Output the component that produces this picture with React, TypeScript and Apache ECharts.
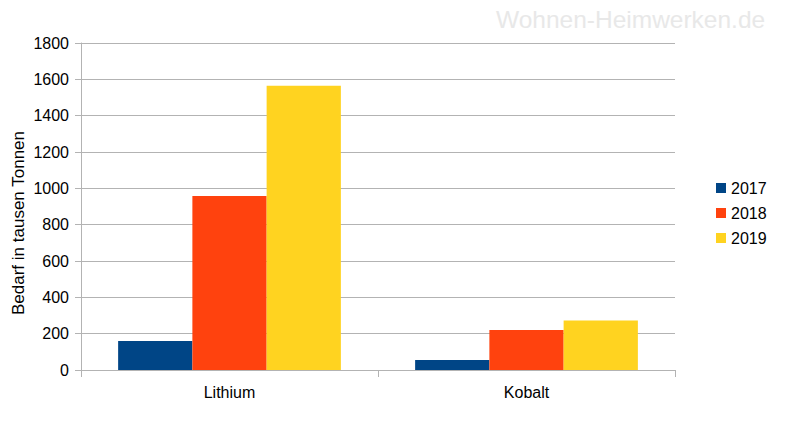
import React, { useEffect, useRef } from "react";
import * as echarts from "echarts";

const categories = ["Lithium", "Kobalt"];
const years = ["2017", "2018", "2019"];
const values2017 = [160, 55];
const values2018 = [958, 220];
const values2019 = [1565, 273];
const colors = ["#004586", "#ff420e", "#ffd320"];
const yAxisTitle = "Bedarf in tausen Tonnen";

export default function App() {
  const ref = useRef<HTMLDivElement>(null);
  useEffect(() => {
    if (!ref.current) return;
    const chart = echarts.init(ref.current, null, { renderer: "svg" });
    const font = "'Liberation Sans', Arial, sans-serif";
    const seriesData = [values2017, values2018, values2019];
    chart.setOption({
      animation: false,
      backgroundColor: "#ffffff",
      textStyle: { fontFamily: font },
      graphic: [
        {
          type: "text",
          left: 496,
          top: 7,
          style: {
            text: "Wohnen-Heimwerken.de",
            font: `24.5px ${font}`,
            fill: "#e8e8e8",
          },
        },
        {
          type: "text",
          x: 18,
          y: 223,
          rotation: Math.PI / 2,
          style: {
            text: yAxisTitle,
            font: `17px ${font}`,
            fill: "#000",
            align: "center",
            verticalAlign: "middle",
          },
        },
      ],
      grid: {
        left: 81,
        right: 125,
        top: 43,
        bottom: 59,
        containLabel: false,
        outerBoundsMode: "none",
      },
      legend: {
        orient: "vertical",
        left: 711,
        top: 175,
        itemWidth: 10,
        itemHeight: 10,
        itemGap: 9,
        icon: "rect",
        textStyle: { fontSize: 16, color: "#000", fontFamily: font },
        data: years,
      },
      xAxis: {
        type: "category",
        data: categories,
        axisLine: { show: true, lineStyle: { color: "#b3b3b3" } },
        axisTick: { show: true, alignWithLabel: false, length: 7, lineStyle: { color: "#b3b3b3" } },
        axisLabel: { fontSize: 16, color: "#000", margin: 14, fontFamily: font },
      },
      yAxis: {
        type: "value",
        min: 0,
        max: 1800,
        interval: 200,
        axisLine: { show: true, lineStyle: { color: "#b3b3b3" } },
        axisTick: { show: true, length: 6, lineStyle: { color: "#b3b3b3" } },
        axisLabel: {
          fontSize: 16,
          color: "#000",
          margin: 12,
          fontFamily: font,
          formatter: (v: number) => String(v),
        },
        splitLine: { show: true, lineStyle: { color: "#b3b3b3" } },
      },
      series: years.map((y, i) => ({
        name: y,
        type: "bar",
        data: seriesData[i],
        itemStyle: { color: colors[i] },
        barGap: "0%",
        barCategoryGap: "25%",
      })),
    });
    return () => chart.dispose();
  }, []);
  return (
    <div
      ref={ref}
      style={{ position: "fixed", left: 0, top: 0, width: 800, height: 429 }}
    />
  );
}
